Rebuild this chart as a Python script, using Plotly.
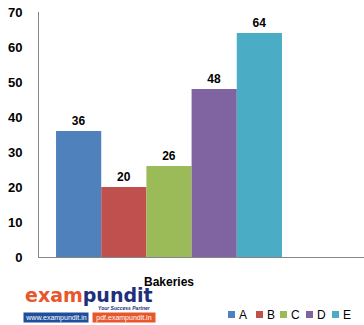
import plotly.graph_objects as go

categories = ["Bakeries"]
series_names = ["A", "B", "C", "D", "E"]
series_values = [[36], [20], [26], [48], [64]]
colors = ["#4F81BD", "#C0504D", "#9BBB59", "#8064A2", "#4BACC6"]
y_ticks = [0, 10, 20, 30, 40, 50, 60, 70]

W, H = 364, 325
L, R, T, B = 39, 0, 12, 68
pw, ph = W - L - R, H - T - B

def px_x(px):
    return (px - L) / pw

def px_y(py):
    return (H - B - py) / ph

FONT = "Liberation Sans"

fig = go.Figure()
for name, vals, c in zip(series_names, series_values, colors):
    fig.add_trace(go.Bar(
        x=categories, y=vals, name=name, marker=dict(color=c, line=dict(width=0)),
        text=[str(v) for v in vals], textposition="outside", cliponaxis=False,
        textfont=dict(family=FONT, size=12, color="#000000", weight="bold"),
        showlegend=False,
    ))

annotations = []
shapes = []
# manual legend
leg_x = [228, 256, 280, 306, 332]
for i, (name, c) in enumerate(zip(series_names, colors)):
    shapes.append(dict(
        type="rect", xref="paper", yref="paper",
        x0=px_x(leg_x[i]), x1=px_x(leg_x[i] + 7), y0=px_y(318), y1=px_y(311),
        fillcolor=c, line=dict(width=0),
    ))
    annotations.append(dict(
        x=px_x(leg_x[i] + 10), y=px_y(314.5), xref="paper", yref="paper",
        xanchor="left", yanchor="middle", showarrow=False, borderpad=0,
        text=name, font=dict(family=FONT, size=12, color="#000000"),
    ))

# logo
annotations.append(dict(
    x=px_x(24), y=px_y(295), xref="paper", yref="paper", xanchor="left", yanchor="middle",
    showarrow=False, borderpad=0,
    text="<span style='color:#E8572B'>exam</span><span style='color:#1E2F7C'>pundit</span>",
    font=dict(family="DejaVu Sans", size=19, weight="bold"),
))
annotations.append(dict(
    x=px_x(152), y=px_y(308), xref="paper", yref="paper", xanchor="right", yanchor="middle",
    showarrow=False, text="<i><b>Your Success Partner</b></i>", borderpad=0,
    font=dict(family=FONT, size=5, color="#1E2F7C"),
))
annotations.append(dict(
    x=px_x(56), y=px_y(318), xref="paper", yref="paper", xanchor="center", yanchor="middle",
    showarrow=False, text="www.exampundit.in", bgcolor="#1F4F9C", width=64, height=9,
    borderpad=0, font=dict(family=FONT, size=7, color="#FFFFFF"),
))
annotations.append(dict(
    x=px_x(124), y=px_y(318), xref="paper", yref="paper", xanchor="center", yanchor="middle",
    showarrow=False, text="pdf.exampundit.in", bgcolor="#E8572B", width=62, height=9,
    borderpad=0, font=dict(family=FONT, size=7, color="#FFFFFF"),
))

fig.update_layout(
    width=W, height=H, margin=dict(l=L, r=R, t=T, b=B),
    paper_bgcolor="#FFFFFF", plot_bgcolor="#FFFFFF",
    barmode="group", bargap=0.131, bargroupgap=0,
    annotations=annotations, shapes=shapes,
    font=dict(family=FONT, size=12, color="#000000"),
)
fig.update_xaxes(
    range=[-0.5, 0.75], showline=True, linecolor="#868686", linewidth=1,
    showgrid=False, ticks="", ticklabelstandoff=14,
    tickfont=dict(family=FONT, size=12, color="#000000", weight="bold"),
)
fig.update_yaxes(
    range=[0, 70], tickvals=y_ticks, showline=True, linecolor="#868686", linewidth=1,
    showgrid=False, zeroline=False, ticks="", ticklabelstandoff=13,
    tickfont=dict(family=FONT, size=13, color="#000000", weight="bold"),
)
fig.write_html("out.html")
